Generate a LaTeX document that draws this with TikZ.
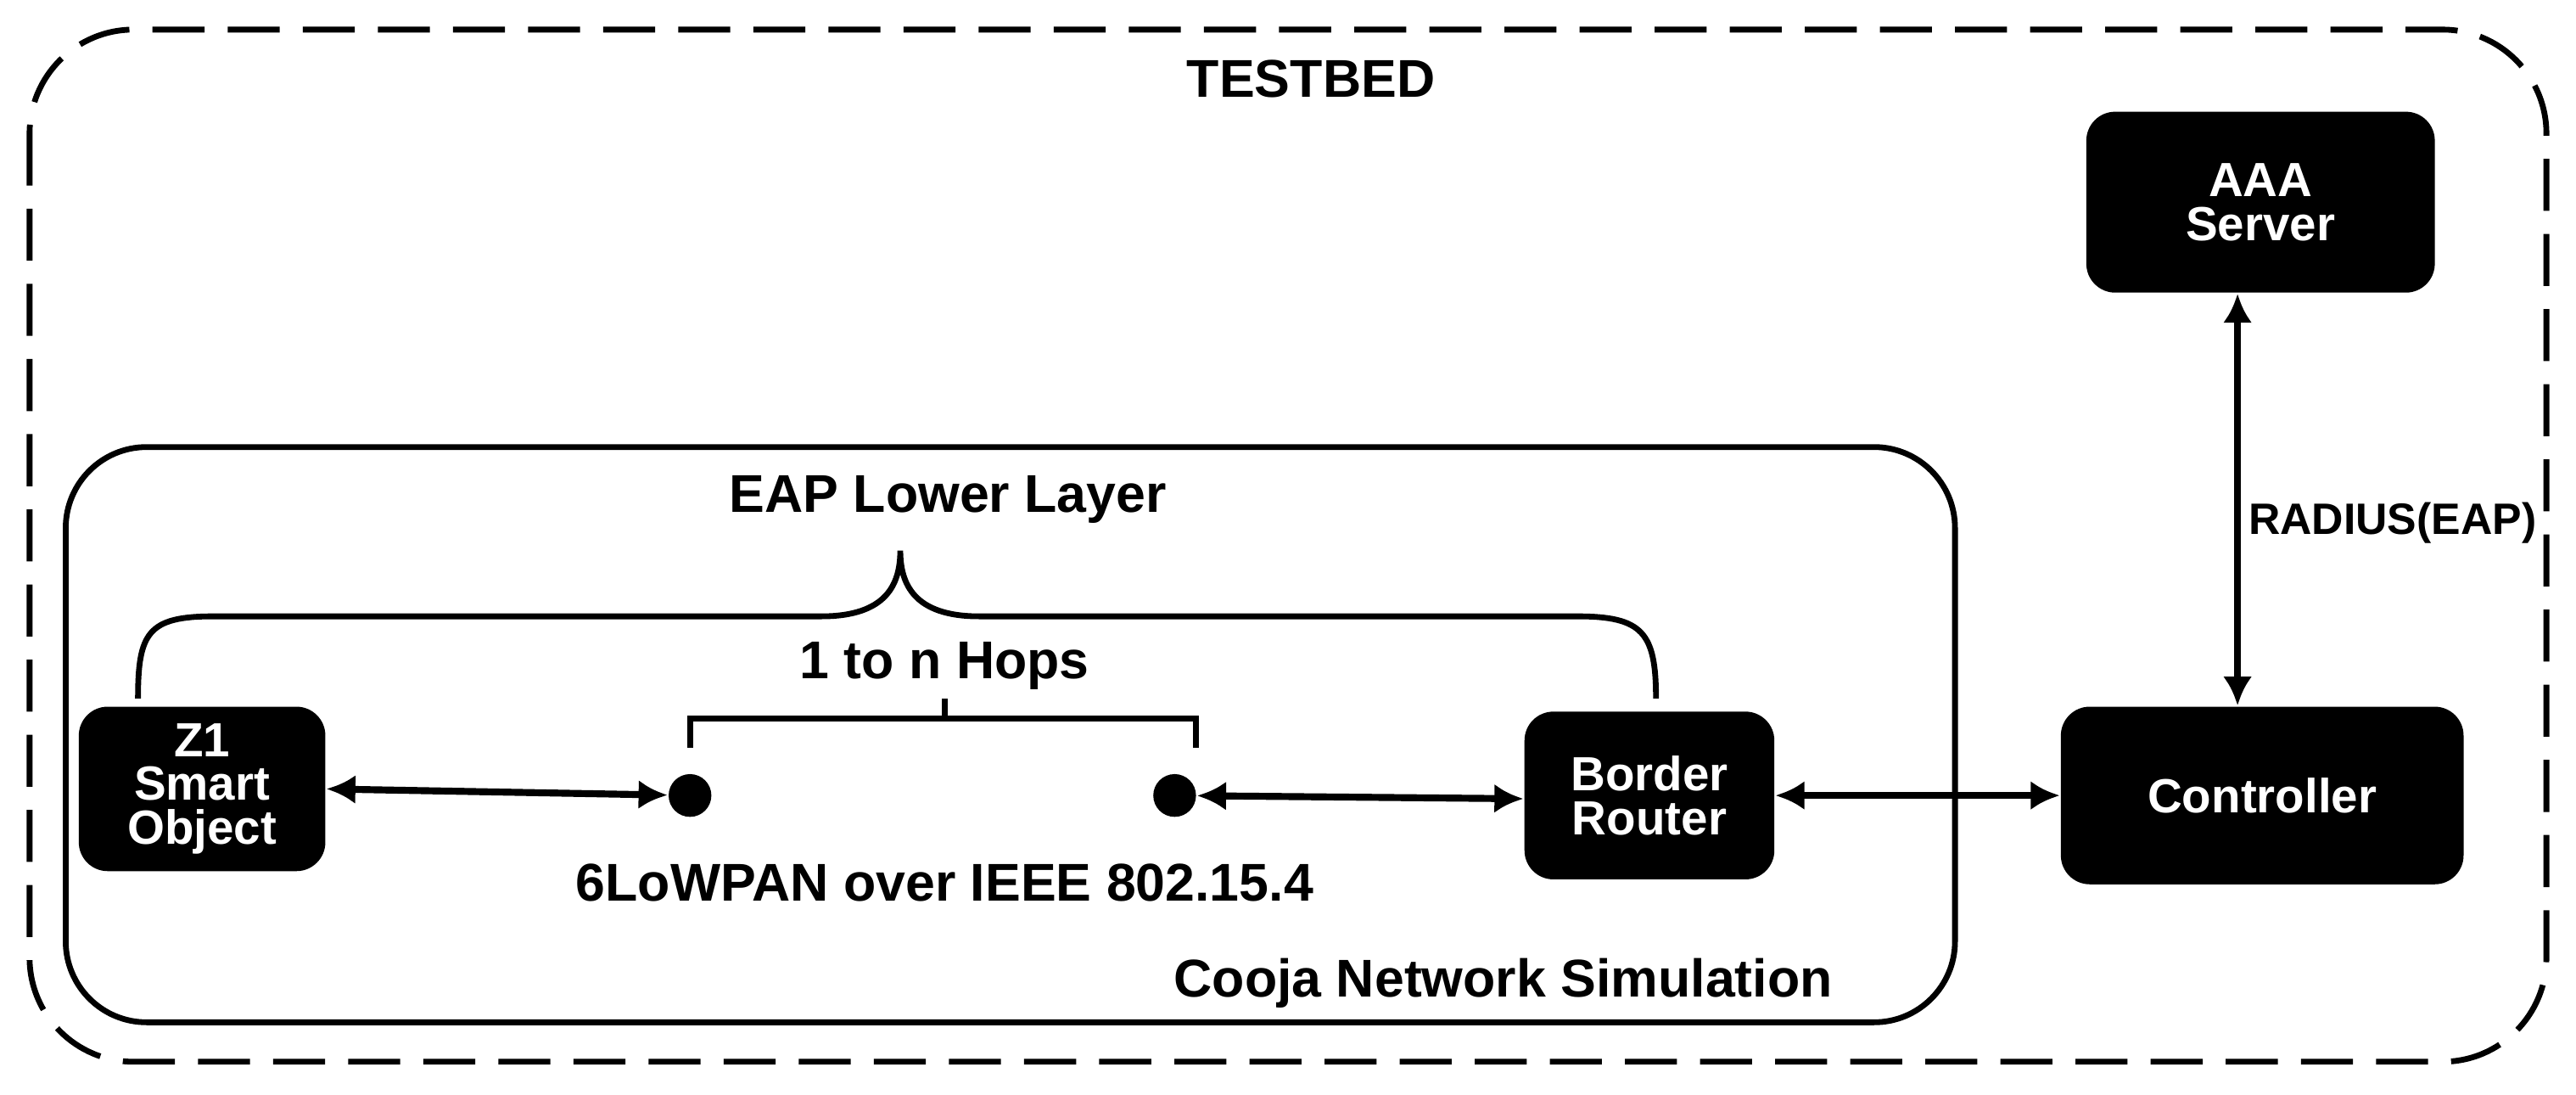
\documentclass[tikz,border=0pt]{standalone}
\usepackage{fontspec}
\setmainfont{Liberation Sans}
\usetikzlibrary{arrows.meta}
\begin{document}
\begin{tikzpicture}[x=0.01cm,y=-0.01cm,
  lbl/.style={font=\fontsize{9.2}{10}\selectfont\bfseries},
  box/.style={fill=black,text=white,rounded corners=5pt,align=center,font=\fontsize{8.3}{7.6}\selectfont\bfseries,inner sep=0pt},
  dot/.style={circle,fill=black,minimum size=0.26cm,inner sep=0pt},
  link/.style={line width=1.2pt,{Latex[length=5pt,width=5pt]}-{Latex[length=5pt,width=5pt]}},
  br/.style={line width=1pt}]
\useasboundingbox (0,0) rectangle (1568,666);
\draw[line width=1pt,dash pattern=on 9pt off 4pt,rounded corners=18pt] (18,18) rectangle (1550,646);
\node[lbl] (tb) at (798,48) {TESTBED};
\draw[line width=1pt,rounded corners=14pt] (40,272) rectangle (1190,622);
\node[lbl] (eap) at (577,304) {EAP Lower Layer};
\node[lbl] (hops) at (575,405) {1 to n Hops};
\node[lbl] (low) at (575,537) {6LoWPAN over IEEE 802.15.4};
\node[lbl] (cooja) at (915,598) {Cooja Network Simulation};
\node[box,minimum width=1.5cm,minimum height=1.0cm] (z1) at (123,480) {Z1\\Smart\\Object};
\node[box,minimum width=1.52cm,minimum height=1.02cm] (brt) at (1004,484) {Border\\Router};
\node[box,minimum width=2.45cm,minimum height=1.08cm] (ctl) at (1377,484) {Controller};
\node[box,minimum width=2.12cm,minimum height=1.1cm] (aaa) at (1376,123) {AAA\\Server};
\node[dot] (d1) at (420,484) {};
\node[dot] (d2) at (715,484) {};
\draw[link] (z1.east|-0,480) -- (d1);
\draw[link] (d2) -- (brt.west|-0,486);
\draw[link] (brt) -- (ctl);
\draw[link] (aaa.south-|1362,0) -- (ctl.north-|1362,0);
\node[font=\fontsize{7.6}{8}\selectfont\bfseries,anchor=west,inner sep=0pt] (rad) at (1368,318) {RADIUS(EAP)};
\draw[br] (84,425) .. controls (84,385) and (90,375) .. (130,375) -- (500,375) .. controls (540,375) and (548,355) .. (548,335)
  .. controls (548,355) and (556,375) .. (596,375) -- (960,375) .. controls (1000,375) and (1008,385) .. (1008,425);
\draw[br] (420,455) -- (420,437) -- (575,437) -- (575,425) (575,437) -- (728,437) -- (728,455);
\end{tikzpicture}
\end{document}
